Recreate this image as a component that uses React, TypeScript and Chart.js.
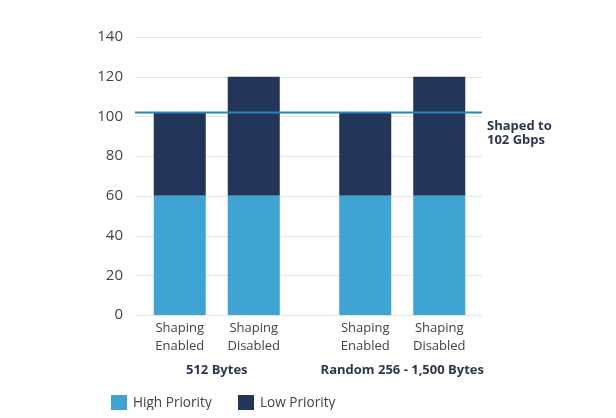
import React, { useEffect, useRef } from "react";
import { Chart, registerables } from "chart.js";

Chart.register(...registerables);

const groups = ["512 Bytes", "Random 256 - 1,500 Bytes"];
const stackNames = [["Shaping", "Enabled"], ["Shaping", "Disabled"]];
const seriesNames = ["High Priority", "Low Priority"];
const highEnabled = [60, 60];
const lowEnabled = [42, 42];
const highDisabled = [60, 60];
const lowDisabled = [60, 60];
const shapedLimit = 102;
const shapedLabel = ["Shaped to", "102 Gbps"];
const yMin = 0;
const yMax = 140;
const yStep = 20;

const HIGH = "#3fa4d4";
const LOW = "#233659";
const LINE = "#2a86b8";
const GRID = "#e4e4e4";
const TEXT = "#40434c";
const BOLD = "#2c3650";
const FONT = "'Open Sans', 'Noto Sans', sans-serif";

const GRID_INSET_L = 11;
const GRID_INSET_R = 13;

const overlay = {
  id: "overlay",
  beforeDatasetsDraw(chart: any) {
    const { ctx, chartArea, scales } = chart;
    const y = scales.y;
    ctx.save();
    ctx.strokeStyle = GRID;
    ctx.lineWidth = 1;
    y.ticks.forEach((t: any) => {
      const py = Math.round(y.getPixelForValue(t.value)) + 0.5;
      ctx.beginPath();
      ctx.moveTo(chartArea.left + GRID_INSET_L, py);
      ctx.lineTo(chartArea.right - GRID_INSET_R, py);
      ctx.stroke();
    });
    ctx.restore();
  },
  afterDatasetsDraw(chart: any) {
    const { ctx, chartArea, scales } = chart;
    const y = scales.y;
    ctx.save();
    // shaped limit line
    const ly = y.getPixelForValue(shapedLimit);
    ctx.strokeStyle = LINE;
    ctx.lineWidth = 2;
    ctx.beginPath();
    ctx.moveTo(chartArea.left + GRID_INSET_L, ly);
    ctx.lineTo(chartArea.right - GRID_INSET_R, ly);
    ctx.stroke();
    ctx.fillStyle = BOLD;
    ctx.font = `bold 13px ${FONT}`;
    ctx.textAlign = "left";
    ctx.textBaseline = "middle";
    shapedLabel.forEach((s, i) => {
      ctx.fillText(s, chartArea.right - GRID_INSET_R + 5, ly + 14 + i * 14);
    });
    // bar labels under each stack
    ctx.fillStyle = TEXT;
    ctx.font = `13px ${FONT}`;
    ctx.textAlign = "center";
    [0, 2].forEach((di, si) => {
      const meta = chart.getDatasetMeta(di);
      meta.data.forEach((el: any) => {
        stackNames[si].forEach((line, li) => {
          ctx.fillText(line, el.x, chartArea.bottom + 13 + li * 18);
        });
      });
    });
    // legend
    const legendY = chartArea.bottom + 88;
    const items = [
      { x: 103, label: seriesNames[0], color: HIGH },
      { x: 230, label: seriesNames[1], color: LOW },
    ];
    ctx.font = `13.6px ${FONT}`;
    ctx.textAlign = "left";
    items.forEach((it) => {
      ctx.fillStyle = it.color;
      ctx.fillRect(it.x, legendY - 8, 16, 15);
      ctx.fillStyle = TEXT;
      ctx.fillText(it.label, it.x + 22, legendY);
    });
    ctx.restore();
  },
};

export default function App() {
  const ref = useRef<HTMLCanvasElement>(null);
  useEffect(() => {
    if (!ref.current) return;
    const chart = new Chart(ref.current, {
      type: "bar",
      data: {
        labels: groups,
        datasets: [
          { label: seriesNames[0], data: highEnabled, backgroundColor: HIGH, stack: "enabled" },
          { label: seriesNames[1], data: lowEnabled, backgroundColor: LOW, stack: "enabled" },
          { label: seriesNames[0], data: highDisabled, backgroundColor: HIGH, stack: "disabled" },
          { label: seriesNames[1], data: lowDisabled, backgroundColor: LOW, stack: "disabled" },
        ],
      },
      options: {
        animation: false,
        responsive: true,
        maintainAspectRatio: false,
        datasets: {
          bar: { barPercentage: 0.703, categoryPercentage: 0.798, borderWidth: 0 },
        },
        layout: { padding: { left: 0, right: 113, top: 29, bottom: 32 } },
        plugins: { legend: { display: false }, tooltip: { enabled: false }, title: { display: false } },
        scales: {
          x: {
            stacked: true,
            grid: { display: false, drawTicks: false },
            border: { display: false },
            ticks: { color: BOLD, font: { family: FONT, size: 13, weight: "bold" }, padding: 47, maxRotation: 0, autoSkip: false },
            afterFit: (s: any) => {
              s.height = 63;
            },
          },
          y: {
            stacked: true,
            min: yMin,
            max: yMax,
            grid: { display: false },
            border: { display: false },
            ticks: { stepSize: yStep, color: TEXT, font: { family: FONT, size: 15 }, padding: -7 },
            afterFit: (s: any) => {
              s.width = 116;
            },
          },
        },
      } as any,
      plugins: [overlay],
    });
    return () => chart.destroy();
  }, []);
  return (
    <div style={{ width: 600, height: 402, position: "relative", background: "#fff" }}>
      <canvas ref={ref} />
    </div>
  );
}
